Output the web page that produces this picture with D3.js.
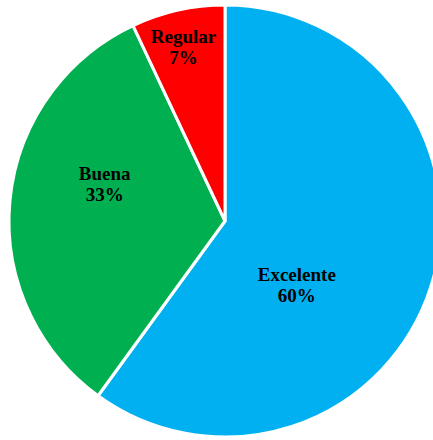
<!DOCTYPE html>
<html>
<head>
<meta charset="utf-8">
<script src="https://cdn.jsdelivr.net/npm/d3@7"></script>
<style>
  html, body { margin: 0; padding: 0; background: #fff; }
  svg { display: block; }
</style>
</head>
<body>
<svg id="chart" width="433" height="440"></svg>
<script>
// Ratings and their shares (%)
const categories = ["Excelente", "Buena", "Regular"];
const values = [60, 33, 7];
const colors = ["#00B0F0", "#00B050", "#FF0000"];

// Label placement: angle (degrees, clockwise from 12 o'clock) and distance from centre
const labelAngles = [131.6, 287.3, 346.6];
const labelRadii = [96, 126, 179];

const width = 433, height = 440;
const cx = 225, cy = 221, radius = 216;

const svg = d3.select("#chart");
const g = svg.append("g").attr("transform", `translate(${cx},${cy})`);

const pie = d3.pie().sort(null).value(d => d)(values);
const arc = d3.arc().innerRadius(0).outerRadius(radius);

g.selectAll("path.slice")
  .data(pie)
  .join("path")
  .attr("class", "slice")
  .attr("d", arc)
  .attr("fill", (d, i) => colors[i])
  .attr("stroke", "#fff")
  .attr("stroke-width", 3)
  .attr("stroke-linejoin", "round");

const labels = g.selectAll("text.lbl")
  .data(pie)
  .join("text")
  .attr("class", "lbl")
  .attr("text-anchor", "middle")
  .attr("font-family", "'Liberation Serif', 'Times New Roman', serif")
  .attr("font-weight", "bold")
  .attr("font-size", 19)
  .attr("fill", "#000")
  .attr("transform", (d, i) => {
    const a = labelAngles[i] * Math.PI / 180;
    const r = labelRadii[i];
    return `translate(${r * Math.sin(a)},${-r * Math.cos(a)})`;
  });

labels.append("tspan")
  .attr("x", 0)
  .attr("y", -4)
  .text((d, i) => categories[i]);

labels.append("tspan")
  .attr("x", 0)
  .attr("y", 17)
  .text(d => d.data + "%");
</script>
</body>
</html>
